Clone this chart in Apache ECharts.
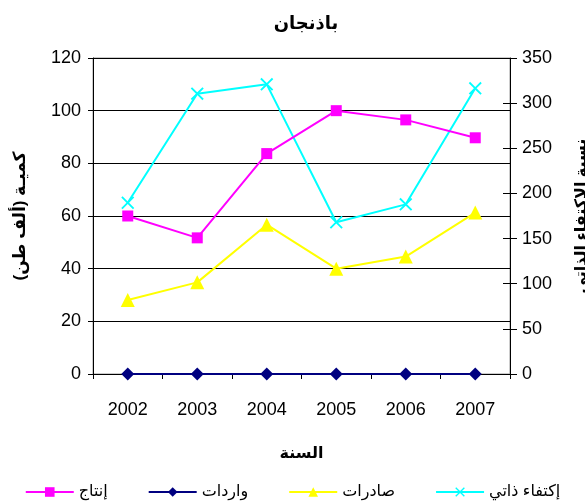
<!DOCTYPE html>
<html>
<head>
<meta charset="utf-8">
<script src="https://cdn.jsdelivr.net/npm/echarts@6/dist/echarts.min.js"></script>
<style>
html,body{margin:0;padding:0;background:#fff;}
#chart{width:585px;height:502px;}
</style>
</head>
<body>
<div id="chart"></div>
<script>
// السنوات والقيم
var years = ['2002', '2003', '2004', '2005', '2006', '2007'];
var production = [60, 51.7, 83.7, 100, 96.5, 89.7];      // إنتاج
var imports = [0, 0, 0, 0, 0, 0];                         // واردات
var exports = [28.1, 34.8, 56.7, 40, 44.6, 61.3];         // صادرات
var selfSuff = [189.7, 310.5, 320.8, 168, 187.9, 316.4];  // إكتفاء ذاتي

var FONT = '"Liberation Sans", Arial, "DejaVu Sans", sans-serif';
var crossPath = 'path://M0,1 L1,0 L5,4 L9,0 L10,1 L6,5 L10,9 L9,10 L5,6 L1,10 L0,9 L4,5 Z';

var myChart = echarts.init(document.getElementById('chart'));

var option = {
	animation: false,
	title: {
		text: 'باذنجان',
		left: 301, top: 10, textAlign: 'center',
		textStyle: {fontFamily: FONT, fontSize: 18, fontWeight: 'bold', color: '#000'}
	},
	legend: {
		bottom: -3, left: 'center', itemGap: 40, itemWidth: 48, itemHeight: 12,
		data: ['إنتاج', 'واردات', 'صادرات', 'إكتفاء ذاتي'],
		textStyle: {fontFamily: FONT, fontSize: 16, color: '#000'}
	},
	grid: {left: 93, right: 75, top: 58, bottom: 128, outerBoundsMode: 'none', containLabel: false,
		show: true, borderColor: '#999', borderWidth: 1},
	xAxis: {
		type: 'category', data: years, boundaryGap: true,
		name: 'السنة', nameLocation: 'middle', nameGap: 72,
		nameTextStyle: {fontFamily: FONT, fontSize: 16, fontWeight: 'bold', color: '#000'},
		axisLine: {lineStyle: {color: '#000'}},
		axisTick: {show: true, length: 5, lineStyle: {color: '#000'}},
		axisLabel: {fontFamily: FONT, fontSize: 18, color: '#000', margin: 27}
	},
	yAxis: [{
		type: 'value', min: 0, max: 120, interval: 20, position: 'left',
		name: 'كميـة (ألف طن)', nameLocation: 'middle', nameGap: 64, nameRotate: 90,
		nameTextStyle: {fontFamily: FONT, fontSize: 17, fontWeight: 'bold', color: '#000'},
		axisLine: {show: true, lineStyle: {color: '#000'}},
		axisTick: {show: true, length: 5, lineStyle: {color: '#000'}},
		axisLabel: {fontFamily: FONT, fontSize: 18, color: '#000', margin: 12},
		splitLine: {show: true, lineStyle: {color: '#000', width: 1}}
	}, {
		type: 'value', min: 0, max: 350, interval: 50, position: 'right',
		name: 'نسبة الإكتفاء الذاتي', nameLocation: 'middle', nameGap: 64, nameRotate: 90,
		nameTextStyle: {fontFamily: FONT, fontSize: 16, fontWeight: 'bold', color: '#000'},
		axisLine: {show: true, lineStyle: {color: '#000'}},
		axisTick: {show: true, length: 7, lineStyle: {color: '#000'}},
		axisLabel: {fontFamily: FONT, fontSize: 18, color: '#000', margin: 12},
		splitLine: {show: false}
	}, {
		// علامات داخلية للمحور الأيمن
		type: 'value', min: 0, max: 350, interval: 50, position: 'right',
		axisLine: {show: false},
		axisTick: {show: true, inside: true, length: 7, lineStyle: {color: '#000'}},
		axisLabel: {show: false},
		splitLine: {show: false}
	}],
	series: [{
		name: 'إكتفاء ذاتي', type: 'line', yAxisIndex: 1, data: selfSuff,
		symbol: crossPath, symbolSize: 13,
		lineStyle: {color: '#00ffff', width: 2}, itemStyle: {color: '#00ffff'}
	}, {
		name: 'صادرات', type: 'line', data: exports,
		symbol: 'triangle', symbolSize: 14,
		lineStyle: {color: '#ffff00', width: 2}, itemStyle: {color: '#ffff00'}
	}, {
		name: 'إنتاج', type: 'line', data: production,
		symbol: 'rect', symbolSize: 11,
		lineStyle: {color: '#ff00ff', width: 2}, itemStyle: {color: '#ff00ff'}
	}, {
		name: 'واردات', type: 'line', data: imports,
		symbol: 'diamond', symbolSize: 13,
		lineStyle: {color: '#000080', width: 2}, itemStyle: {color: '#000080'}
	}]
};

myChart.setOption(option);
</script>
</body>
</html>
